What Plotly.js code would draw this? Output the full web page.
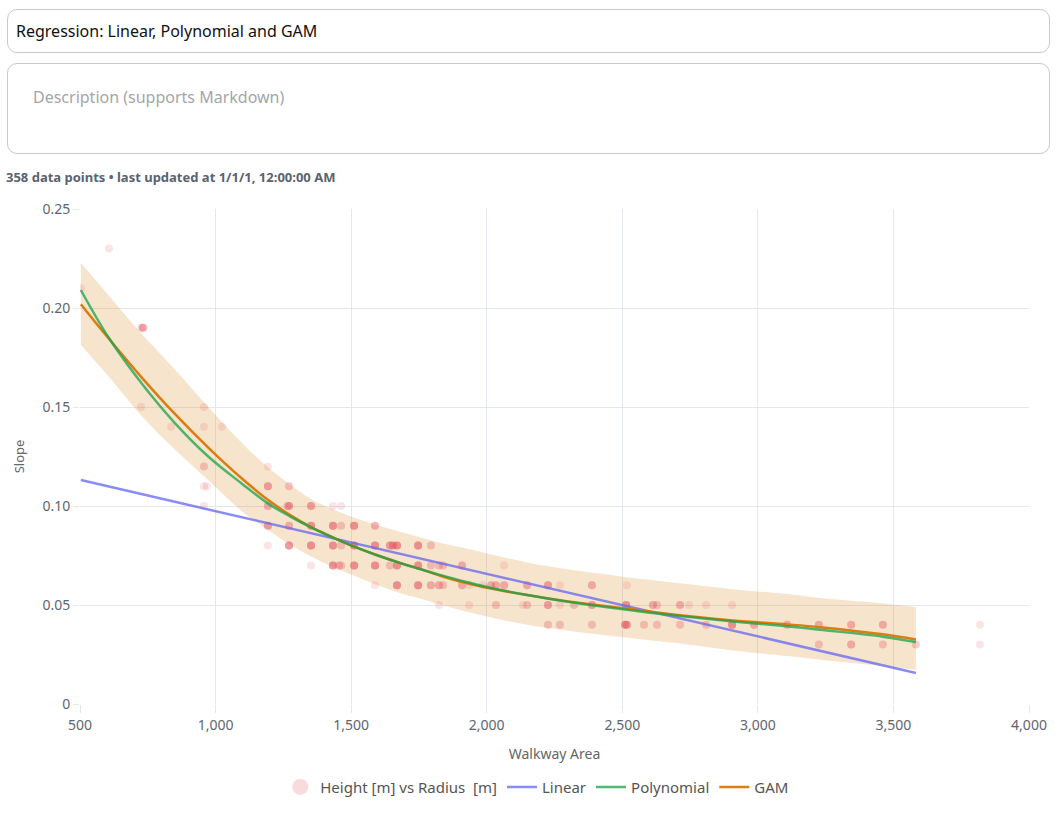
<!DOCTYPE html>
<html>
<head>
<meta charset="utf-8">
<script src="https://cdn.plot.ly/plotly-3.0.1.min.js"></script>
<style>
  html, body { margin: 0; padding: 0; background: #fff; width: 1058px; height: 813px; overflow: hidden;
    font-family: "Segoe UI", "Noto Sans", "Open Sans", sans-serif; }
  .box { position: absolute; left: 7px; width: 1041px; border: 1px solid #c9c9c9; border-radius: 10px; box-sizing: content-box; }
  #titleBox { top: 9px; height: 42px; }
  #titleBox span { position: absolute; left: 8px; top: 10px; font-size: 16px; line-height: 22px; color: #111; }
  #descBox { top: 63px; height: 89px; }
  #descBox span { position: absolute; left: 25px; top: 22px; font-size: 16px; line-height: 22px; color: #a3a6ab; }
  #info { position: absolute; left: 6px; top: 168px; font-size: 13px; line-height: 18px; font-weight: 700; color: #5b6270; }
  #chart { position: absolute; left: 0; top: 195px; width: 1058px; height: 660px; }
</style>
</head>
<body>
<div class="box" id="titleBox"><span>Regression: Linear, Polynomial and GAM</span></div>
<div class="box" id="descBox"><span>Description (supports Markdown)</span></div>
<div id="info">358 data points • last updated at 1/1/1, 12:00:00 AM</div>
<div id="chart"></div>
<script>
// ---- Observed points (Walkway Area, Slope, number of overlapping observations) ----
const pointX = [
  607,
  503,
  725, 732,
  725, 957,
  836, 957, 1024,
  957, 1193,
  957, 968, 1193, 1271,
  957, 1193, 1265, 1271, 1352, 1433, 1463,
  1193, 1271, 1352, 1433, 1463, 1511, 1588,
  1193, 1271, 1352, 1433, 1463, 1511, 1588, 1643, 1654, 1669, 1747, 1794,
  1352, 1433, 1455, 1463, 1511, 1588, 1643, 1669, 1747, 1794, 1824, 1839, 1909, 2064,
  1588, 1669, 1747, 1794, 1824, 1839, 1909, 1935, 1986, 2016, 2034, 2064, 2149, 2226, 2270, 2388, 2517,
  1824, 1935, 2034, 2134, 2149, 2226, 2270, 2322, 2388, 2514, 2613, 2628, 2713, 2746, 2809, 2905,
  2226, 2270, 2388, 2510, 2517, 2580, 2628, 2713, 2809, 2905, 2986, 3108, 3225, 3344, 3461, 3819,
  3225, 3344, 3461, 3583, 3819
];
const pointY = [
  0.23,
  0.21,
  0.19, 0.19,
  0.15, 0.15,
  0.14, 0.14, 0.14,
  0.12, 0.12,
  0.11, 0.11, 0.11, 0.11,
  0.10, 0.10, 0.10, 0.10, 0.10, 0.10, 0.10,
  0.09, 0.09, 0.09, 0.09, 0.09, 0.09, 0.09,
  0.08, 0.08, 0.08, 0.08, 0.08, 0.08, 0.08, 0.08, 0.08, 0.08, 0.08, 0.08,
  0.07, 0.07, 0.07, 0.07, 0.07, 0.07, 0.07, 0.07, 0.07, 0.07, 0.07, 0.07, 0.07, 0.07,
  0.06, 0.06, 0.06, 0.06, 0.06, 0.06, 0.06, 0.06, 0.06, 0.06, 0.06, 0.06, 0.06, 0.06, 0.06, 0.06, 0.06,
  0.05, 0.05, 0.05, 0.05, 0.05, 0.05, 0.05, 0.05, 0.05, 0.05, 0.05, 0.05, 0.05, 0.05, 0.05, 0.05,
  0.04, 0.04, 0.04, 0.04, 0.04, 0.04, 0.04, 0.04, 0.04, 0.04, 0.04, 0.04, 0.04, 0.04, 0.04, 0.04,
  0.03, 0.03, 0.03, 0.03, 0.03
];
const pointCount = [
  1,
  1,
  1, 4,
  1, 1,
  1, 1, 1,
  2, 1,
  1, 1, 4, 2,
  1, 3, 2, 4, 4, 1, 1,
  4, 3, 5, 5, 2, 5, 3,
  1, 5, 5, 5, 2, 5, 5, 4, 4, 5, 5, 2,
  1, 5, 2, 2, 5, 5, 2, 5, 5, 2, 2, 2, 3, 1,
  1, 5, 5, 3, 3, 2, 3, 1, 1, 3, 3, 3, 3, 4, 1, 3, 1,
  1, 1, 2, 1, 2, 4, 1, 2, 4, 5, 3, 2, 3, 1, 1, 1,
  2, 2, 2, 4, 4, 2, 2, 2, 2, 5, 3, 3, 3, 3, 3, 1,
  2, 3, 2, 2, 1
];

// ---- Fitted curves ----
const linearX = [503, 3583];
const linearY = [0.1131, 0.0157];

const curveX = [503, 605, 727, 850, 973, 1096, 1194, 1274, 1352, 1433, 1507, 1588, 1680, 1747,
                1828, 1909, 2001, 2149, 2300, 2503, 2713, 2908, 3108, 3229, 3461, 3583];
const polyY  = [0.2091, 0.1852, 0.1620, 0.1419, 0.1250, 0.1114, 0.1012, 0.0948, 0.0892, 0.0840, 0.0797,
                0.0755, 0.0712, 0.0684, 0.0652, 0.0622, 0.0591, 0.0550, 0.0516, 0.0478, 0.0444, 0.0417,
                0.0393, 0.0375, 0.0340, 0.0313];
const gamY   = [0.2019, 0.1847, 0.1650, 0.1465, 0.1295, 0.1140, 0.1030, 0.0955, 0.0893, 0.0842, 0.0797,
                0.0755, 0.0713, 0.0685, 0.0648, 0.0616, 0.0587, 0.0550, 0.0518, 0.0484, 0.0448, 0.0422,
                0.0402, 0.0388, 0.0352, 0.0326];
const bandUpper = [0.2227, 0.2065, 0.1870, 0.1690, 0.1500, 0.1320, 0.1195, 0.1110, 0.1035, 0.0983, 0.0943,
                0.0907, 0.0870, 0.0845, 0.0815, 0.0790, 0.0760, 0.0715, 0.0680, 0.0643, 0.0610, 0.0580,
                0.0555, 0.0535, 0.0508, 0.0490];
const bandLower = [0.1813, 0.1655, 0.1455, 0.1285, 0.1130, 0.0975, 0.0878, 0.0805, 0.0745, 0.0692, 0.0650,
                0.0605, 0.0561, 0.0535, 0.0502, 0.0472, 0.0442, 0.0400, 0.0370, 0.0337, 0.0305, 0.0270,
                0.0242, 0.0224, 0.0192, 0.0172];

// ---- Axis ticks ----
const yTickVals = [0, 0.05, 0.10, 0.15, 0.20, 0.25];
const yTickText = ["0", "0.05", "0.10", "0.15", "0.20", "0.25"];
const xTickVals = [500, 1000, 1500, 2000, 2500, 3000, 3500, 4000];

// expand overlapping observations
const sx = [], sy = [];
for (let i = 0; i < pointX.length; i++) {
  for (let k = 0; k < pointCount[i]; k++) { sx.push(pointX[i]); sy.push(pointY[i]); }
}

const scatterName = "Height [m] vs Radius  [m]";
const markerColor = "rgb(228,72,84)";

const traces = [
  {
    x: curveX, y: bandLower, type: "scatter", mode: "lines",
    line: {width: 0, shape: "spline", color: "rgba(0,0,0,0)"},
    showlegend: false, hoverinfo: "skip"
  },
  {
    x: curveX, y: bandUpper, type: "scatter", mode: "lines", fill: "tonexty",
    fillcolor: "rgba(217,119,6,0.2)", line: {width: 0, shape: "spline", color: "rgba(0,0,0,0)"},
    showlegend: false, hoverinfo: "skip"
  },
  {
    x: sx, y: sy, type: "scatter", mode: "markers", name: scatterName,
    marker: {color: markerColor, size: 8, opacity: 0.15},
    showlegend: false
  },
  {
    x: [null], y: [null], type: "scatter", mode: "markers", name: scatterName,
    marker: {color: markerColor, size: 16, opacity: 0.15},
    legendrank: 1
  },
  {
    x: linearX, y: linearY, type: "scatter", mode: "lines", name: "Linear",
    line: {color: "#6366f1", width: 2.5}, opacity: 0.75, legendrank: 2
  },
  {
    x: curveX, y: gamY, type: "scatter", mode: "lines", name: "GAM",
    line: {color: "#d97706", width: 2.5, shape: "spline"}, opacity: 0.95, legendrank: 4
  },
  {
    x: curveX, y: polyY, type: "scatter", mode: "lines", name: "Polynomial",
    line: {color: "#16a34a", width: 2.5, shape: "spline"}, opacity: 0.75, legendrank: 3
  }
];

const gridColor = "#e3e8ef";
const layout = {
  width: 1058, height: 660,
  margin: {l: 80, r: 29, t: 14, b: 151},
  paper_bgcolor: "#fff", plot_bgcolor: "#fff",
  font: {family: "'Segoe UI', 'Noto Sans', sans-serif", size: 14, color: "#60666f"},
  showlegend: true,
  legend: {orientation: "h", x: 0.211, xanchor: "left", y: -0.168, yanchor: "middle",
           font: {size: 15, color: "#555"}, traceorder: "normal"},
  xaxis: {
    range: [500, 4000], tickvals: xTickVals, tickformat: ",d",
    gridcolor: gridColor, zeroline: false, showline: false,
    ticks: "outside", ticklen: 8, tickcolor: gridColor,
    title: {text: "Walkway Area", font: {size: 14, color: "#666"}, standoff: 16},
    automargin: false
  },
  yaxis: {
    range: [0, 0.25], tickvals: yTickVals, ticktext: yTickText,
    gridcolor: gridColor, zeroline: false, showline: false,
    ticks: "outside", ticklen: 6, tickcolor: gridColor,
    title: {text: "Slope", font: {size: 13, color: "#666"}, standoff: 14},
    automargin: false
  }
};

Plotly.newPlot("chart", traces, layout, {displayModeBar: false, staticPlot: true});
</script>
</body>
</html>
